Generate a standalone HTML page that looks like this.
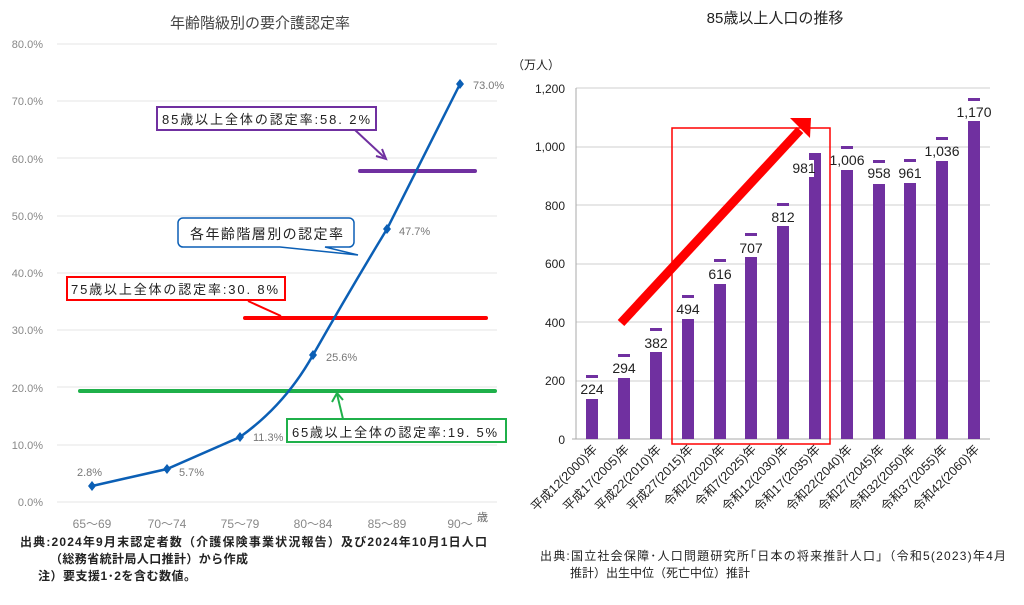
<!DOCTYPE html>
<html><head><meta charset="utf-8"><style>
body{margin:0;background:#fff;}
svg text{font-family:"Liberation Sans","Noto Sans CJK JP",sans-serif;}
</style></head><body>
<svg width="1024" height="600" viewBox="0 0 1024 600" xmlns="http://www.w3.org/2000/svg">
<!-- LEFT CHART -->
<text x="260" y="28" font-size="15" fill="#444" text-anchor="middle">年齢階級別の要介護認定率</text>
<g stroke="#e6e6e6" stroke-width="1">
<line x1="57" y1="44" x2="497" y2="44"/><line x1="57" y1="101" x2="497" y2="101"/>
<line x1="57" y1="158" x2="497" y2="158"/><line x1="57" y1="216" x2="497" y2="216"/>
<line x1="57" y1="273" x2="497" y2="273"/><line x1="57" y1="330" x2="497" y2="330"/>
<line x1="57" y1="387" x2="497" y2="387"/><line x1="57" y1="445" x2="497" y2="445"/>
<line x1="57" y1="502" x2="497" y2="502"/></g>
<g font-size="11" fill="#888" text-anchor="end">
<text x="43" y="48">80.0%</text><text x="43" y="105">70.0%</text><text x="43" y="163">60.0%</text>
<text x="43" y="220">50.0%</text><text x="43" y="277">40.0%</text><text x="43" y="334">30.0%</text>
<text x="43" y="392">20.0%</text><text x="43" y="449">10.0%</text><text x="43" y="506">0.0%</text></g>
<g font-size="12" fill="#888" text-anchor="middle">
<text x="92" y="528">65～69</text><text x="167" y="528">70～74</text><text x="240" y="528">75～79</text>
<text x="313" y="528">80～84</text><text x="387" y="528">85～89</text><text x="460" y="528">90～</text></g>
<text x="477" y="521" font-size="11" fill="#666">歳</text>
<!-- level lines -->
<line x1="360" y1="171" x2="475" y2="171" stroke="#7030a0" stroke-width="4" stroke-linecap="round"/>
<line x1="245" y1="318" x2="486" y2="318" stroke="#ff0000" stroke-width="4" stroke-linecap="round"/>
<line x1="80" y1="391" x2="495" y2="391" stroke="#1fb04a" stroke-width="4" stroke-linecap="round"/>
<!-- series -->
<path d="M92,486 L167,469 L240,437 Q285,405 313,355 Q350,290 387,229 L460,84" fill="none" stroke="#0b5fb5" stroke-width="2.5"/>
<g fill="#0b5fb5">
<path d="M92,481 l4,5 l-4,5 l-4,-5z"/><path d="M167,464 l4,5 l-4,5 l-4,-5z"/><path d="M240,432 l4,5 l-4,5 l-4,-5z"/>
<path d="M313,350 l4,5 l-4,5 l-4,-5z"/><path d="M387,224 l4,5 l-4,5 l-4,-5z"/><path d="M460,79 l4,5 l-4,5 l-4,-5z"/></g>
<g font-size="11" fill="#777">
<text x="77" y="476">2.8%</text><text x="179" y="476">5.7%</text><text x="253" y="441">11.3%</text>
<text x="326" y="361">25.6%</text><text x="399" y="235">47.7%</text><text x="473" y="89">73.0%</text></g>
<!-- annotations -->
<rect x="157" y="107" width="219" height="23" fill="#fff" stroke="#7030a0" stroke-width="2"/>
<text x="162" y="124" font-size="13" fill="#222" textLength="208" lengthAdjust="spacing">85歳以上全体の認定率:58. 2%</text>
<path d="M355,130 L384,157" stroke="#7030a0" stroke-width="2"/><path d="M376,156 L386,159 L382,149" fill="none" stroke="#7030a0" stroke-width="2"/>
<path d="M185,218 H349 a5,5 0 0 1 5,5 V242 a5,5 0 0 1 -5,5 H325 L358,255 L280,247 H183 a5,5 0 0 1 -5,-5 V223 a5,5 0 0 1 5,-5z" fill="#fff" stroke="#0b5fb5" stroke-width="1.5"/>
<text x="190" y="239" font-size="14" fill="#222" textLength="153" lengthAdjust="spacing">各年齢階層別の認定率</text>
<rect x="67" y="277" width="218" height="23" fill="#fff" stroke="#ff0000" stroke-width="2"/>
<text x="71" y="294" font-size="13" fill="#222" textLength="207" lengthAdjust="spacing">75歳以上全体の認定率:30. 8%</text>
<path d="M248,301 L281,316" stroke="#ff0000" stroke-width="2"/>
<rect x="287" y="419" width="219" height="23" fill="#fff" stroke="#1fb04a" stroke-width="2"/>
<text x="292" y="437" font-size="13" fill="#222" textLength="205" lengthAdjust="spacing">65歳以上全体の認定率:19. 5%</text>
<path d="M343,419 L337,394" stroke="#1fb04a" stroke-width="2"/><path d="M332,402 L337,393 L343,400" fill="none" stroke="#1fb04a" stroke-width="2"/>
<g font-size="12" fill="#222" font-weight="bold">
<text x="20" y="546" textLength="467" lengthAdjust="spacing">出典:2024年9月末認定者数（介護保険事業状況報告）及び2024年10月1日人口</text>
<text x="50" y="563" textLength="198" lengthAdjust="spacing">（総務省統計局人口推計）から作成</text>
<text x="38" y="580" textLength="158" lengthAdjust="spacing">注）要支援1･2を含む数値。</text></g>

<!-- RIGHT CHART -->
<text x="775" y="23" font-size="15" fill="#222" text-anchor="middle">85歳以上人口の推移</text>
<text x="512" y="69" font-size="12" fill="#222">（万人）</text>
<g stroke="#cfcfcf" stroke-width="1">
<line x1="576" y1="88" x2="990" y2="88"/><line x1="576" y1="147" x2="990" y2="147"/>
<line x1="576" y1="205" x2="990" y2="205"/><line x1="576" y1="264" x2="990" y2="264"/>
<line x1="576" y1="322" x2="990" y2="322"/><line x1="576" y1="381" x2="990" y2="381"/></g>
<line x1="576" y1="88" x2="576" y2="439" stroke="#aaa"/>
<line x1="572" y1="439" x2="990" y2="439" stroke="#aaa"/>
<g font-size="12" fill="#222" text-anchor="end">
<text x="565" y="93">1,200</text><text x="565" y="151">1,000</text><text x="565" y="210">800</text>
<text x="565" y="268">600</text><text x="565" y="327">400</text><text x="565" y="385">200</text><text x="565" y="444">0</text></g>
<g fill="#7030a0">
<rect x="586" y="399" width="12" height="40"/><rect x="618" y="378" width="12" height="61"/>
<rect x="650" y="352" width="12" height="87"/><rect x="682" y="319" width="12" height="120"/>
<rect x="714" y="284" width="12" height="155"/><rect x="745" y="257" width="12" height="182"/>
<rect x="777" y="226" width="12" height="213"/><rect x="809" y="153" width="12" height="286"/>
<rect x="841" y="170" width="12" height="269"/><rect x="873" y="184" width="12" height="255"/>
<rect x="904" y="183" width="12" height="256"/><rect x="936" y="161" width="12" height="278"/>
<rect x="968" y="121" width="12" height="318"/>
<rect x="586" y="375" width="12" height="3"/><rect x="618" y="354" width="12" height="3"/>
<rect x="650" y="328" width="12" height="3"/><rect x="682" y="295" width="12" height="3"/>
<rect x="714" y="259" width="12" height="3"/><rect x="745" y="233" width="12" height="3"/>
<rect x="777" y="203" width="12" height="3"/><rect x="841" y="146" width="12" height="3"/>
<rect x="873" y="160" width="12" height="3"/><rect x="904" y="159" width="12" height="3"/>
<rect x="936" y="137" width="12" height="3"/><rect x="968" y="98" width="12" height="3"/></g>
<rect x="792" y="160" width="22" height="17" fill="#fff"/>
<g font-size="14" fill="#222" text-anchor="middle">
<text x="592" y="394">224</text><text x="624" y="373">294</text><text x="656" y="348">382</text>
<text x="688" y="314">494</text><text x="720" y="279">616</text><text x="751" y="253">707</text>
<text x="783" y="222">812</text><text x="804" y="173">981</text><text x="847" y="165">1,006</text>
<text x="879" y="178">958</text><text x="910" y="178">961</text><text x="942" y="156">1,036</text><text x="974" y="117">1,170</text></g>
<rect x="672" y="128" width="158" height="316" fill="none" stroke="#ff0000" stroke-width="1.5"/>
<line x1="621" y1="323" x2="800" y2="130" stroke="#ff0000" stroke-width="9"/>
<path d="M790,118 L811,118 L810,138 z" fill="#ff0000"/>
<g font-size="12.5" fill="#222" text-anchor="end">
<g transform="translate(598,450) rotate(-45)"><text>平成12(2000)年</text></g>
<g transform="translate(630,450) rotate(-45)"><text>平成17(2005)年</text></g>
<g transform="translate(662,450) rotate(-45)"><text>平成22(2010)年</text></g>
<g transform="translate(694,450) rotate(-45)"><text>平成27(2015)年</text></g>
<g transform="translate(726,450) rotate(-45)"><text>令和2(2020)年</text></g>
<g transform="translate(757,450) rotate(-45)"><text>令和7(2025)年</text></g>
<g transform="translate(789,450) rotate(-45)"><text>令和12(2030)年</text></g>
<g transform="translate(821,450) rotate(-45)"><text>令和17(2035)年</text></g>
<g transform="translate(853,450) rotate(-45)"><text>令和22(2040)年</text></g>
<g transform="translate(885,450) rotate(-45)"><text>令和27(2045)年</text></g>
<g transform="translate(916,450) rotate(-45)"><text>令和32(2050)年</text></g>
<g transform="translate(948,450) rotate(-45)"><text>令和37(2055)年</text></g>
<g transform="translate(980,450) rotate(-45)"><text>令和42(2060)年</text></g></g>
<g font-size="12" fill="#222">
<text x="540" y="560" textLength="466" lengthAdjust="spacing">出典:国立社会保障･人口問題研究所｢日本の将来推計人口｣（令和5(2023)年4月</text>
<text x="570" y="577" textLength="180" lengthAdjust="spacing">推計）出生中位（死亡中位）推計</text></g>
</svg>
</body></html>
